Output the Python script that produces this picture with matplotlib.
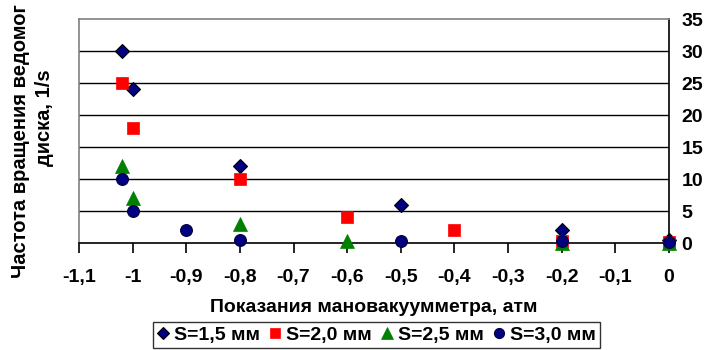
import matplotlib
matplotlib.use("Agg")
import matplotlib.pyplot as plt

plt.rcParams['font.family'] = ['Liberation Sans', 'DejaVu Sans']
plt.rcParams['font.weight'] = 'bold'

# Pressure gauge readings (atm) and disc rotation frequency (1/s) per gap size
x_s15 = [-1.02, -1.0, -0.8, -0.5, -0.2, 0.0]
y_s15 = [30, 24, 12, 6, 2, 0.5]

x_s20 = [-1.02, -1.0, -0.8, -0.6, -0.4, -0.2, 0.0]
y_s20 = [25, 18, 10, 4, 2, 0.3, 0.1]

x_s25 = [-1.02, -1.0, -0.8, -0.6, -0.2, 0.0]
y_s25 = [12, 7, 3, 0.3, 0, 0]

x_s30 = [-1.02, -1.0, -0.9, -0.8, -0.5, -0.2, 0.0]
y_s30 = [10, 5, 2, 0.5, 0.3, 0.3, 0.1]

labels = ["S=1,5 мм", "S=2,0 мм", "S=2,5 мм", "S=3,0 мм"]
x_ticks = [-1.1, -1.0, -0.9, -0.8, -0.7, -0.6, -0.5, -0.4, -0.3, -0.2, -0.1, 0.0]
x_ticklabels = ["-1,1", "-1", "-0,9", "-0,8", "-0,7", "-0,6", "-0,5",
                "-0,4", "-0,3", "-0,2", "-0,1", "0"]
y_ticks = [0, 5, 10, 15, 20, 25, 30, 35]

FS = 14
W, H = 710, 350
fig = plt.figure(figsize=(W / 100, H / 100), dpi=100)
ax = fig.add_axes([79 / W, 1 - 243 / H, (669 - 79) / W, (243 - 19) / H])

ax.set_xlim(-1.1, 0)
ax.set_ylim(0, 35)

# horizontal gridlines
for v in y_ticks[1:-1]:
    ax.axhline(v, color='black', lw=1.0, zorder=1)

navy = '#000080'
ax.plot(x_s15, y_s15, ls='none', marker='D', ms=7.5, mfc=navy, mec='black',
        mew=0.8, zorder=3, label=labels[0], clip_on=False)
ax.plot(x_s20, y_s20, ls='none', marker='s', ms=9, mfc='#ff0000', mec='#ff0000',
        mew=0.5, zorder=4, label=labels[1], clip_on=False)
ax.plot(x_s25, y_s25, ls='none', marker='^', ms=9.5, mfc='#008000', mec='#008000',
        mew=0.5, zorder=5, label=labels[2], clip_on=False)
ax.plot(x_s30, y_s30, ls='none', marker='o', ms=8.5, mfc=navy, mec='#000040',
        mew=0.8, zorder=6, label=labels[3], clip_on=False)

for s in ('left', 'top'):
    ax.spines[s].set_color('#808080')
    ax.spines[s].set_linewidth(1.2)
for s in ('right', 'bottom'):
    ax.spines[s].set_color('black')
    ax.spines[s].set_linewidth(1.2)

ax.set_xticks(x_ticks)
ax.set_xticklabels(x_ticklabels, fontsize=FS, fontweight='bold')
ax.tick_params(axis='x', direction='out', length=7, width=1.2, pad=12)

ax.yaxis.tick_right()
ax.set_yticks(y_ticks)
ax.set_yticklabels([str(v) for v in y_ticks], fontsize=FS, fontweight='bold')
ax.tick_params(axis='y', length=0, pad=9)
for t in ax.get_yticklabels():
    t.set_horizontalalignment('left')

ax.set_xlabel("Показания мановакуумметра, атм", fontsize=FS, fontweight='bold',
              labelpad=9)

fig.text(21 / W, 1 - 141 / H, "Частота вращения ведомог", rotation=90,
         ha='center', va='center', fontsize=14.5, fontweight='bold')
fig.text(44 / W, 1 - 118 / H, "диска, 1/s", rotation=90,
         ha='center', va='center', fontsize=14.5, fontweight='bold')

leg = fig.legend(loc='center', bbox_to_anchor=(376.5 / W, 1 - 335 / H), ncol=4,
                 fontsize=FS, frameon=True, fancybox=False, handlelength=0.6,
                 handletextpad=0.25, columnspacing=0.5, borderpad=0.2,
                 borderaxespad=0, markerscale=0.85)
leg.get_frame().set_edgecolor('black')
leg.get_frame().set_linewidth(1.0)
for t in leg.get_texts():
    t.set_fontweight('bold')

fig.savefig("out.png", dpi=100)
